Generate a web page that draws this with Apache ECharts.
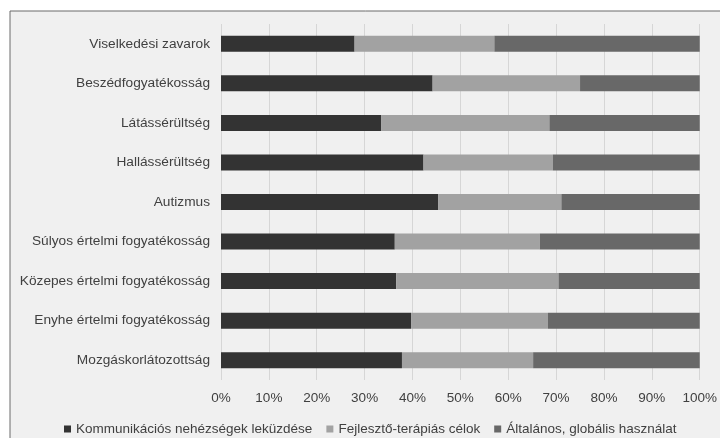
<!DOCTYPE html>
<html>
<head>
<meta charset="utf-8">
<script src="https://cdn.jsdelivr.net/npm/echarts@6/dist/echarts.min.js"></script>
<style>
  html, body { margin: 0; padding: 0; background: #ffffff; }
  #main { width: 720px; height: 438px; }
</style>
</head>
<body>
<div id="main"></div>
<script>
// categories from top to bottom
const categories = [
    'Viselkedési zavarok',
    'Beszédfogyatékosság',
    'Látássérültség',
    'Hallássérültség',
    'Autizmus',
    'Súlyos értelmi fogyatékosság',
    'Közepes értelmi fogyatékosság',
    'Enyhe értelmi fogyatékosság',
    'Mozgáskorlátozottság'
]
const seriesNames = [
    'Kommunikációs nehézségek leküzdése',
    'Fejlesztő-terápiás célok',
    'Általános, globális használat'
]
// shares in %
const kommunikacio = [27.9, 44.2, 33.5, 42.3, 45.4, 36.3, 36.6, 39.7, 37.8]
const fejleszto = [29.2, 30.8, 35.1, 27.0, 25.7, 30.3, 33.9, 28.6, 27.4]
const altalanos = [42.9, 25.0, 31.4, 30.7, 28.9, 33.4, 29.5, 31.7, 34.8]
const colors = ['#333333', '#a2a2a2', '#686868']

const chartDom = document.getElementById('main')
const myChart = echarts.init(chartDom, null, { renderer: 'canvas' })

const font = 'Liberation Sans, Arial, sans-serif'
const values = [kommunikacio, fejleszto, altalanos]

const option = {
    animation: false,
    color: colors,
    graphic: [
        {
            type: 'rect',
            z: -10,
            shape: { x: 10, y: 11, width: 760, height: 460 },
            style: { fill: '#f0f0f0', stroke: '#6a6a6a', lineWidth: 1 }
        }
    ],
    grid: {
        left: 221,
        right: 19,
        top: 24,
        bottom: 58,
        containLabel: false
    },
    legend: {
        left: 59,
        top: 417,
        icon: 'rect',
        itemWidth: 7,
        itemHeight: 7,
        itemGap: 14,
        textStyle: { fontFamily: font, fontSize: 13.5, color: '#404040' },
        data: seriesNames
    },
    xAxis: {
        type: 'value',
        min: 0,
        max: 100,
        interval: 10,
        axisLine: { show: false },
        axisTick: { show: false },
        axisLabel: {
            formatter: '{value}%',
            margin: 11,
            fontFamily: font,
            fontSize: 13.5,
            color: '#404040'
        },
        splitLine: { lineStyle: { color: '#d6d6d6', width: 1 } }
    },
    yAxis: {
        type: 'category',
        inverse: true,
        data: categories,
        axisLine: { show: false },
        axisTick: { show: false },
        axisLabel: {
            margin: 11,
            fontFamily: font,
            fontSize: 13.7,
            color: '#404040'
        }
    },
    series: seriesNames.map((name, i) => ({
        name,
        type: 'bar',
        stack: 'total',
        barWidth: 16,
        data: values[i],
        itemStyle: { color: colors[i] }
    }))
}

option && myChart.setOption(option)
</script>
</body>
</html>
